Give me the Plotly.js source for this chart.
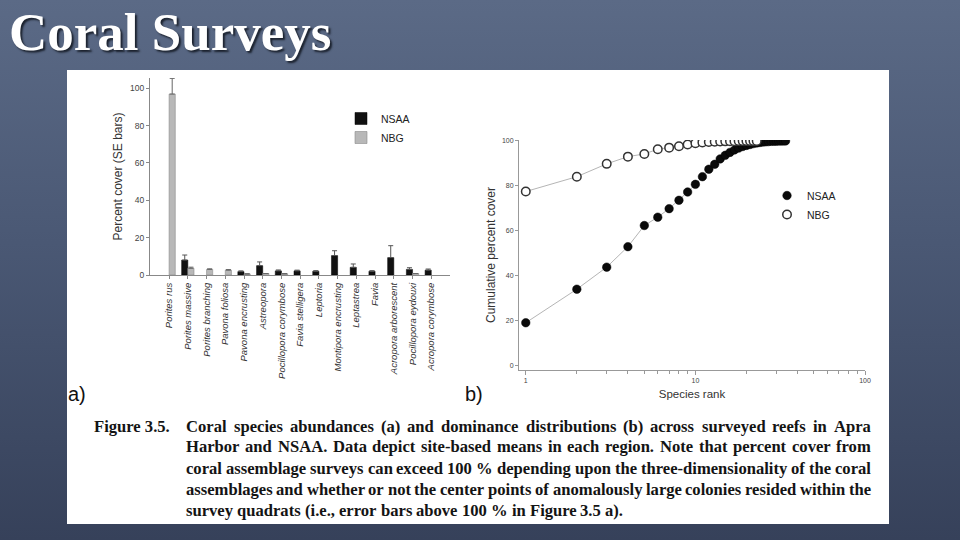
<!DOCTYPE html>
<html>
<head>
<meta charset="utf-8">
<script src="https://cdn.plot.ly/plotly-3.0.1.min.js"></script>
<style>
  html, body { margin: 0; padding: 0; }
  body {
    width: 960px; height: 540px; overflow: hidden;
    background: linear-gradient(180deg, #5b6a86 0%, #4a5874 45%, #36415a 100%);
  }
  #chart { width: 960px; height: 540px; }
</style>
</head>
<body>
<div id="chart"></div>
<script>
// (a) Percent cover by coral taxon, two regions, with SE bars (upper side only)
const categories = ['Porites rus', 'Porites massive', 'Porites branching', 'Pavona foliosa',
  'Pavona encrusting', 'Astreopora', 'Pocillopora corymbose', 'Favia stelligera', 'Leptoria',
  'Montipora encrusting', 'Leptastrea', 'Favia', 'Acropora arborescent',
  'Pocillopora eydouxi', 'Acropora corymbose'];
const nsaaCover = [null, 8.0, null, null, 1.8, 5.0, 2.2, 2.2, 2.0, 10.4, 4.1, 2.0, 9.3, 3.0, 2.6];
const nsaaSE    = [null, 2.7, null, null, 0.4, 2.0, 0.5, 0.4, 0.3, 2.6, 1.8, 0.3, 6.4, 0.9, 0.6];
const nbgCover  = [96.9, 3.6, 3.0, 2.6, 0.6, 0.8, 0.7, null, null, null, null, null, null, 0.8, null];
const nbgSE     = [8.4, 0.6, 0.3, 0.3, null, null, null, null, null, null, null, null, null, null, null];
const coverTicks = [0, 20, 40, 60, 80, 100];

// (b) Cumulative percent cover against species rank
const nsaaCumulative = [19.2, 34.1, 43.9, 53.0, 62.4, 66.1, 69.9, 73.6, 77.3, 80.7, 84.1, 87.4,
  89.6, 92.0, 93.6, 94.9, 96.0, 96.8, 97.5, 98.0, 98.4, 98.8, 99.1, 99.3, 99.5, 99.6, 99.7,
  99.8, 99.85, 99.9, 99.93, 99.96, 99.98, 100];
const nbgCumulative = [77.5, 84.1, 89.8, 93.0, 94.2, 96.3, 97.0, 97.6, 98.4, 99.0, 99.3, 99.5,
  99.6, 99.7, 99.8, 99.85, 99.9, 99.93, 99.95, 99.97, 99.98, 99.99, 100];
const rankTicks = [1, 10, 100];
const rankMinorTicks = [2, 3, 4, 5, 6, 7, 8, 9, 20, 30, 40, 50, 60, 70, 80, 90];

// Slide text
const slideTitle = 'Coral Surveys';
const figureLabel = 'Figure 3.5.';
const captionLines = [
  'Coral species abundances (a) and dominance distributions (b) across surveyed reefs in Apra',
  'Harbor and NSAA. Data depict site-based means in each region. Note that percent cover from',
  'coral assemblage surveys can exceed 100 % depending upon the three-dimensionality of the coral',
  'assemblages and whether or not the center points of anomalously large colonies resided within the',
  'survey quadrats (i.e., error bars above 100 % in Figure 3.5 a).'
];

const W = 960, H = 540;
const px = v => v / W;
const py = v => 1 - v / H;
const ranks = arr => arr.map((_, i) => i + 1);

const traces = [
  {
    type: 'bar', name: 'NSAA', x: categories, y: nsaaCover,
    marker: { color: '#111111', line: { color: '#000', width: 0.5 } },
    error_y: { type: 'data', symmetric: false, array: nsaaSE,
               arrayminus: nsaaSE.map(() => 0), color: '#555', thickness: 1, width: 2.5 },
    xaxis: 'x', yaxis: 'y', legend: 'legend'
  },
  {
    type: 'bar', name: 'NBG', x: categories, y: nbgCover,
    marker: { color: '#b8b8b8', line: { color: '#8a8a8a', width: 0.6 } },
    error_y: { type: 'data', symmetric: false, array: nbgSE,
               arrayminus: nbgSE.map(() => 0), color: '#666', thickness: 1, width: 2.5 },
    xaxis: 'x', yaxis: 'y', legend: 'legend'
  },
  // connecting lines for the rank curves
  {
    type: 'scatter', mode: 'lines', x: ranks(nsaaCumulative), y: nsaaCumulative,
    line: { color: '#b5b5b5', width: 1 }, showlegend: false, xaxis: 'x2', yaxis: 'y2'
  },
  {
    type: 'scatter', mode: 'lines', x: ranks(nbgCumulative), y: nbgCumulative,
    line: { color: '#b5b5b5', width: 1 }, showlegend: false, xaxis: 'x2', yaxis: 'y2'
  },
  {
    type: 'scatter', mode: 'markers', name: 'NSAA', x: ranks(nsaaCumulative), y: nsaaCumulative,
    marker: { symbol: 'circle', size: 8.5, color: '#0a0a0a', line: { color: '#000', width: 0.5 } },
    xaxis: 'x2', yaxis: 'y2', legend: 'legend2'
  },
  {
    type: 'scatter', mode: 'markers', name: 'NBG', x: ranks(nbgCumulative), y: nbgCumulative,
    marker: { symbol: 'circle', size: 8.5, color: '#ffffff', line: { color: '#333', width: 1.5 } },
    xaxis: 'x2', yaxis: 'y2', legend: 'legend2'
  }
];

// Caption laid out word by word so every full line is justified
const canvas = document.createElement('canvas');
const ctx = canvas.getContext('2d');
const serif = 'Liberation Serif, Times New Roman, serif';
const capLeft = 185, capRight = 870, lastLineWidth = 438;
ctx.font = 'bold 100px "Liberation Serif"';
const capSize = Math.round(100 * lastLineWidth / ctx.measureText(captionLines[4]).width * 10) / 10;
ctx.font = 'bold ' + capSize + 'px "Liberation Serif"';

const annotations = [];
function addWord(text, xPx, yPx) {
  annotations.push({
    text: '<b>' + text + '</b>', xref: 'paper', yref: 'paper', x: px(xPx), y: py(yPx),
    xanchor: 'left', yanchor: 'middle', showarrow: false, borderpad: 0,
    font: { family: serif, size: capSize, color: '#141414' }
  });
}
captionLines.forEach((line, li) => {
  const yPx = 426 + li * 21;
  const words = line.split(' ');
  const widths = words.map(w => ctx.measureText(w).width);
  const total = widths.reduce((a, b) => a + b, 0);
  const justify = li < captionLines.length - 1;
  const gap = justify ? (capRight - capLeft - total) / (words.length - 1) : ctx.measureText(' ').width;
  let x = capLeft;
  words.forEach((w, i) => { addWord(w, x, yPx); x += widths[i] + gap; });
});
addWord(figureLabel, 93, 426);

annotations.push(
  {
    text: '<b>' + slideTitle + '</b>', xref: 'paper', yref: 'paper', x: px(7), y: py(32),
    xanchor: 'left', yanchor: 'middle', showarrow: false,
    font: { family: serif, size: 53, color: '#ffffff', shadow: '2px 2px 2px rgba(20,25,35,0.9)' }
  },
  {
    text: 'a)', xref: 'paper', yref: 'paper', x: px(66), y: py(394), xanchor: 'left', yanchor: 'middle',
    showarrow: false, font: { family: 'Liberation Sans, Arial, sans-serif', size: 20, color: '#111' }
  },
  {
    text: 'b)', xref: 'paper', yref: 'paper', x: px(463), y: py(394), xanchor: 'left', yanchor: 'middle',
    showarrow: false, font: { family: 'Liberation Sans, Arial, sans-serif', size: 20, color: '#111' }
  }
);

const layout = {
  width: W, height: H,
  margin: { l: 0, r: 0, t: 0, b: 0 },
  paper_bgcolor: 'rgba(0,0,0,0)', plot_bgcolor: 'rgba(0,0,0,0)',
  font: { family: 'Liberation Sans, Arial, sans-serif', color: '#333' },
  barmode: 'group', bargap: 0.34, bargroupgap: 0,
  shapes: [{
    type: 'rect', xref: 'paper', yref: 'paper', layer: 'below',
    x0: px(67), x1: px(889), y0: py(524), y1: py(70),
    fillcolor: '#ffffff', line: { width: 0 }
  }],
  xaxis: {
    domain: [px(150), px(450)], anchor: 'y', range: [-1.02, 15],
    tickangle: -90, tickfont: { size: 9.5, style: 'italic', color: '#333' },
    ticks: 'outside', ticklen: 3, tickcolor: '#888',
    showline: true, linecolor: '#888', linewidth: 1,
    showgrid: false, zeroline: false, automargin: false
  },
  yaxis: {
    domain: [py(275), py(78)], anchor: 'x', range: [0, 105.5],
    tickvals: coverTicks, ticks: 'outside', ticklen: 3, tickcolor: '#888',
    tickfont: { size: 8.5, color: '#444' },
    showline: true, linecolor: '#888', linewidth: 1,
    showgrid: false, zeroline: false, automargin: false,
    title: { text: 'Percent cover (SE bars)', font: { size: 12, color: '#333' }, standoff: 4 }
  },
  xaxis2: {
    domain: [px(519), px(865)], anchor: 'y2', type: 'log', range: [-0.04, 2.0],
    tickvals: rankTicks, ticktext: rankTicks.map(String),
    ticks: 'outside', ticklen: 4, tickcolor: '#999',
    minor: { tickvals: rankMinorTicks, ticks: 'outside', ticklen: 3, tickcolor: '#999', showgrid: false },
    tickfont: { size: 7, color: '#444' },
    showline: true, linecolor: '#999', linewidth: 1,
    showgrid: false, zeroline: false, automargin: false,
    title: { text: 'Species rank', font: { size: 11.5, color: '#333' }, standoff: 6 }
  },
  yaxis2: {
    domain: [py(370), py(140)], anchor: 'x2', range: [-1.8, 100.4],
    tickvals: coverTicks, ticks: 'outside', ticklen: 3, tickcolor: '#999',
    tickfont: { size: 7, color: '#444' },
    showline: true, linecolor: '#999', linewidth: 1,
    showgrid: false, zeroline: false, automargin: false,
    title: { text: 'Cumulative percent cover', font: { size: 12, color: '#333' }, standoff: 3 }
  },
  legend: {
    x: px(341), y: py(104), xanchor: 'left', yanchor: 'top',
    bgcolor: 'rgba(0,0,0,0)', font: { size: 10.5, color: '#222' },
    itemwidth: 30, traceorder: 'normal', tracegroupgap: 0
  },
  legend2: {
    x: px(767), y: py(181), xanchor: 'left', yanchor: 'top',
    bgcolor: 'rgba(0,0,0,0)', font: { size: 10.5, color: '#222' },
    itemwidth: 30, traceorder: 'normal', tracegroupgap: 0
  },
  annotations: annotations
};

Plotly.newPlot('chart', traces, layout, { staticPlot: true, displayModeBar: false });
</script>
</body>
</html>
